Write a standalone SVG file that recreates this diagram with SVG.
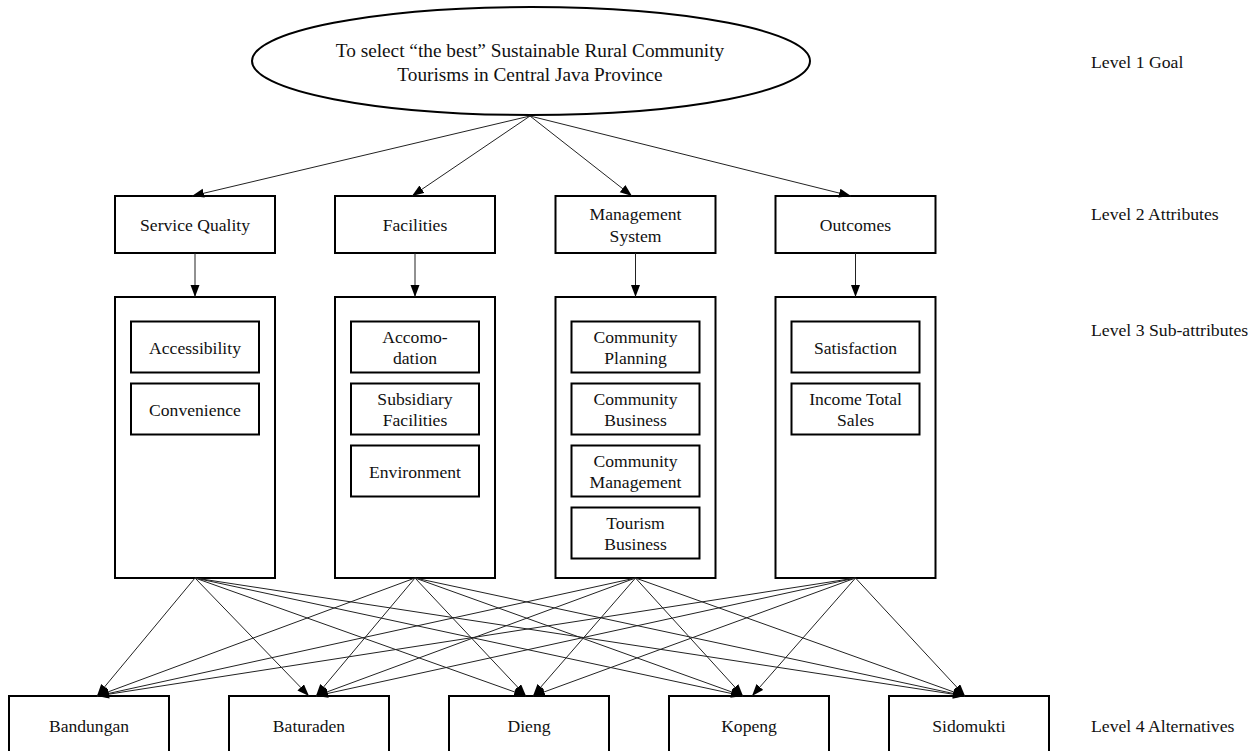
<svg xmlns="http://www.w3.org/2000/svg" width="1258" height="751" viewBox="0 0 1258 751">
<style>
.box{fill:#fff;stroke:#000;stroke-width:2}
.t{font-family:"Liberation Serif","Times New Roman",serif;font-size:17.6px;fill:#111;text-anchor:middle}
.lv{font-family:"Liberation Serif","Times New Roman",serif;font-size:17.7px;fill:#111}
.goal{font-family:"Liberation Serif","Times New Roman",serif;font-size:19.3px;fill:#111;text-anchor:middle}
.c{stroke:#222;stroke-width:1;fill:none;marker-end:url(#ah)}
</style>
<defs>
<marker id="ah" markerUnits="userSpaceOnUse" markerWidth="13" markerHeight="10" refX="12" refY="4.5" orient="auto">
<path d="M0,0 L12,4.5 L0,9 z" fill="#000"/>
</marker>
</defs>
<rect width="1258" height="751" fill="#fff"/>

<g id="goal">
<ellipse class="box" cx="531" cy="61" rx="279" ry="54"/>
<text class="goal" x="530" y="57">To select “the best” Sustainable Rural Community</text>
<text class="goal" x="530" y="81">Tourisms in Central Java Province</text>
</g>

<g id="level-labels">
<text class="lv" x="1091" y="68">Level 1 Goal</text>
<text class="lv" x="1091" y="220">Level 2 Attributes</text>
<text class="lv" x="1091" y="336">Level 3 Sub-attributes</text>
<text class="lv" x="1091" y="732">Level 4 Alternatives</text>
</g>

<g id="attr-service-quality">
<rect class="box" x="115" y="196" width="160" height="57"/>
<text class="t" x="195" y="231">Service Quality</text>
</g>
<g id="attr-facilities">
<rect class="box" x="335" y="196" width="160" height="57"/>
<text class="t" x="415" y="231">Facilities</text>
</g>
<g id="attr-management">
<rect class="box" x="555.5" y="196" width="160" height="57"/>
<text class="t" x="635.5" y="220">Management</text>
<text class="t" x="635.5" y="241.5">System</text>
</g>
<g id="attr-outcomes">
<rect class="box" x="775.5" y="196" width="160" height="57"/>
<text class="t" x="855.5" y="231">Outcomes</text>
</g>

<g id="sub-service-quality">
<rect class="box" x="115" y="297" width="160" height="281"/>
<rect class="box" x="131" y="321.5" width="128" height="51"/>
<text class="t" x="195" y="353.5">Accessibility</text>
<rect class="box" x="131" y="383.5" width="128" height="51"/>
<text class="t" x="195" y="415.5">Convenience</text>
</g>
<g id="sub-facilities">
<rect class="box" x="335" y="297" width="160" height="281"/>
<rect class="box" x="351" y="321.5" width="128" height="51"/>
<text class="t" x="415" y="343">Accomo-</text>
<text class="t" x="415" y="364">dation</text>
<rect class="box" x="351" y="383.5" width="128" height="51"/>
<text class="t" x="415" y="405">Subsidiary</text>
<text class="t" x="415" y="426">Facilities</text>
<rect class="box" x="351" y="445.5" width="128" height="51"/>
<text class="t" x="415" y="477.5">Environment</text>
</g>
<g id="sub-management">
<rect class="box" x="555.5" y="297" width="160" height="281"/>
<rect class="box" x="571.5" y="321.5" width="128" height="51"/>
<text class="t" x="635.5" y="343">Community</text>
<text class="t" x="635.5" y="364">Planning</text>
<rect class="box" x="571.5" y="383.5" width="128" height="51"/>
<text class="t" x="635.5" y="405">Community</text>
<text class="t" x="635.5" y="426">Business</text>
<rect class="box" x="571.5" y="445.5" width="128" height="51"/>
<text class="t" x="635.5" y="467">Community</text>
<text class="t" x="635.5" y="488">Management</text>
<rect class="box" x="571.5" y="507.5" width="128" height="51"/>
<text class="t" x="635.5" y="529">Tourism</text>
<text class="t" x="635.5" y="550">Business</text>
</g>
<g id="sub-outcomes">
<rect class="box" x="775.5" y="297" width="160" height="281"/>
<rect class="box" x="791.5" y="321.5" width="128" height="51"/>
<text class="t" x="855.5" y="353.5">Satisfaction</text>
<rect class="box" x="791.5" y="383.5" width="128" height="51"/>
<text class="t" x="855.5" y="405">Income Total</text>
<text class="t" x="855.5" y="426">Sales</text>
</g>

<g id="alt-bandungan">
<rect class="box" x="9" y="696" width="160" height="80"/>
<text class="t" x="89" y="732">Bandungan</text>
</g>
<g id="alt-baturaden">
<rect class="box" x="229" y="696" width="160" height="80"/>
<text class="t" x="309" y="732">Baturaden</text>
</g>
<g id="alt-dieng">
<rect class="box" x="449" y="696" width="160" height="80"/>
<text class="t" x="529" y="732">Dieng</text>
</g>
<g id="alt-kopeng">
<rect class="box" x="669" y="696" width="160" height="80"/>
<text class="t" x="749" y="732">Kopeng</text>
</g>
<g id="alt-sidomukti">
<rect class="box" x="889" y="696" width="160" height="80"/>
<text class="t" x="969" y="732">Sidomukti</text>
</g>

<g id="connectors">
<line class="c" x1="530" y1="116" x2="192" y2="196"/>
<line class="c" x1="530" y1="116" x2="412" y2="196"/>
<line class="c" x1="530" y1="116" x2="632" y2="196"/>
<line class="c" x1="530" y1="116" x2="851" y2="196"/>

<line class="c" x1="195" y1="253" x2="195" y2="297"/>
<line class="c" x1="415" y1="253" x2="415" y2="297"/>
<line class="c" x1="635.5" y1="253" x2="635.5" y2="297"/>
<line class="c" x1="855.5" y1="253" x2="855.5" y2="297"/>

<line class="c" x1="195" y1="578" x2="97" y2="696"/>
<line class="c" x1="195" y1="578" x2="309" y2="696"/>
<line class="c" x1="195" y1="578" x2="526" y2="696"/>
<line class="c" x1="195" y1="578" x2="743" y2="696"/>
<line class="c" x1="195" y1="578" x2="965" y2="696"/>

<line class="c" x1="415" y1="578" x2="97" y2="696"/>
<line class="c" x1="415" y1="578" x2="316" y2="696"/>
<line class="c" x1="415" y1="578" x2="526" y2="696"/>
<line class="c" x1="415" y1="578" x2="743" y2="696"/>
<line class="c" x1="415" y1="578" x2="965" y2="696"/>

<line class="c" x1="635.5" y1="578" x2="97" y2="696"/>
<line class="c" x1="635.5" y1="578" x2="316" y2="696"/>
<line class="c" x1="635.5" y1="578" x2="533" y2="696"/>
<line class="c" x1="635.5" y1="578" x2="743" y2="696"/>
<line class="c" x1="635.5" y1="578" x2="965" y2="696"/>

<line class="c" x1="855.5" y1="578" x2="97" y2="696"/>
<line class="c" x1="855.5" y1="578" x2="316" y2="696"/>
<line class="c" x1="855.5" y1="578" x2="533" y2="696"/>
<line class="c" x1="855.5" y1="578" x2="752" y2="696"/>
<line class="c" x1="855.5" y1="578" x2="965" y2="696"/>
</g>
</svg>
